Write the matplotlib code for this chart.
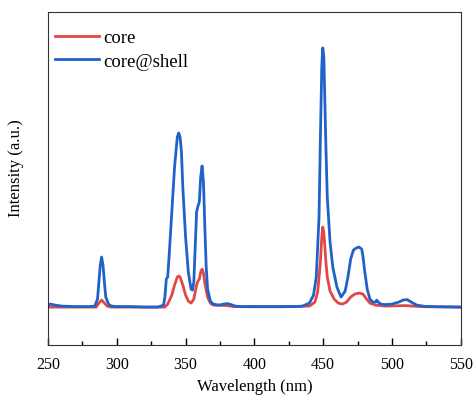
import matplotlib
matplotlib.use("Agg")
import matplotlib.pyplot as plt
from matplotlib.ticker import MultipleLocator

plt.rcParams['font.family'] = ['Liberation Serif', 'DejaVu Serif']

# spectra (wavelength in nm, intensity in arbitrary units)
wl_shell = [250, 252, 255, 260, 270, 280, 284, 286, 287, 288, 289, 290, 291, 292, 294, 296,
            300, 310, 320, 330, 334, 335, 336, 337, 338, 340, 342, 344, 345, 346, 347, 348,
            350, 352, 354, 355, 356, 357, 358, 359, 360, 361, 362, 363, 364, 365, 366, 368,
            370, 374, 378, 380, 382, 386, 390, 400, 410, 420, 430, 435, 440, 443, 445, 447,
            448, 449, 449.7, 450.5, 451, 452, 453, 455, 457, 460, 463, 466, 468, 470, 472,
            474, 476, 478, 479, 480, 482, 484, 486, 488, 489, 490, 492, 495, 500, 505, 508,
            511, 514, 518, 525, 550]
int_shell = [2, 3, 2, 1, 0.5, 0.5, 1, 8, 25, 42, 50, 42, 25, 10, 3, 1,
             0.5, 0.5, 0, 0, 2, 10, 28, 30, 50, 95, 140, 170, 174, 170, 155, 120,
             70, 35, 18, 17, 25, 60, 95, 101, 105, 130, 141, 125, 80, 40, 18, 6,
             3, 2, 3, 3.5, 3, 1, 0.5, 0.5, 0.5, 0.5, 0.5, 1, 4, 12, 30, 90,
             170, 240, 259, 250, 220, 160, 110, 65, 40, 20, 10, 16, 30, 48, 57,
             59, 60, 58, 50, 38, 18, 8, 5, 5, 7, 5, 3, 2.5, 3, 5, 7,
             7.5, 5, 2, 0.5, 0]

wl_core = [250, 260, 270, 280, 285, 287, 289, 291, 293, 296, 310, 320, 330, 335, 337, 340,
           342, 344, 345, 346, 348, 350, 352, 354, 356, 358, 359, 360, 361, 362, 363, 364,
           366, 368, 370, 380, 385, 400, 420, 440, 444, 446, 448, 449, 449.7, 450.5, 451,
           452, 453, 455, 458, 461, 464, 467, 470, 473, 476, 479, 481, 484, 488, 495, 510,
           520, 550]
int_core = [0, 0, 0, 0, 0, 4, 7, 4, 1, 0, 0, 0, 0, 0, 3, 12,
            22, 30, 31, 30, 22, 12, 6, 4, 8, 22, 26, 28, 35, 38, 34, 24,
            10, 4, 2, 1.5, 0.5, 0.3, 0.3, 1, 5, 15, 45, 70, 80, 74, 65,
            45, 30, 16, 8, 4, 3, 5, 10, 13, 14, 13, 9, 4, 2, 1, 1.5,
            0.5, 0]

fig = plt.figure(figsize=(4.75, 4.02), dpi=100)
ax = fig.add_axes([0.101, 0.139, 0.869, 0.829])

ax.plot(wl_core, int_core, color='#e04848', lw=2, label='core')
ax.plot(wl_shell, int_shell, color='#1f62c8', lw=2, label='core@shell')

ax.set_xlim(250, 550)
ax.set_ylim(-38, 295)
ax.xaxis.set_major_locator(MultipleLocator(50))
ax.xaxis.set_minor_locator(MultipleLocator(25))
ax.tick_params(axis='x', which='major', direction='in', length=5, width=1, labelsize=11.5, pad=8)
ax.tick_params(axis='x', which='minor', direction='in', length=3, width=1)
ax.set_yticks([])
for s in ax.spines.values():
    s.set_color('#333333')

ax.set_xlabel('Wavelength (nm)', fontsize=12, labelpad=4)
ax.set_ylabel('Intensity (a.u.)', fontsize=12)
ax.yaxis.set_label_coords(-0.058, 0.535)

ax.legend(loc='upper left', bbox_to_anchor=(0.0, 0.971), frameon=False, fontsize=13.5,
          handlelength=2.3, borderaxespad=0, handletextpad=0.27, labelspacing=0.36)

fig.savefig('out.png', dpi=100)
plt.close(fig)
